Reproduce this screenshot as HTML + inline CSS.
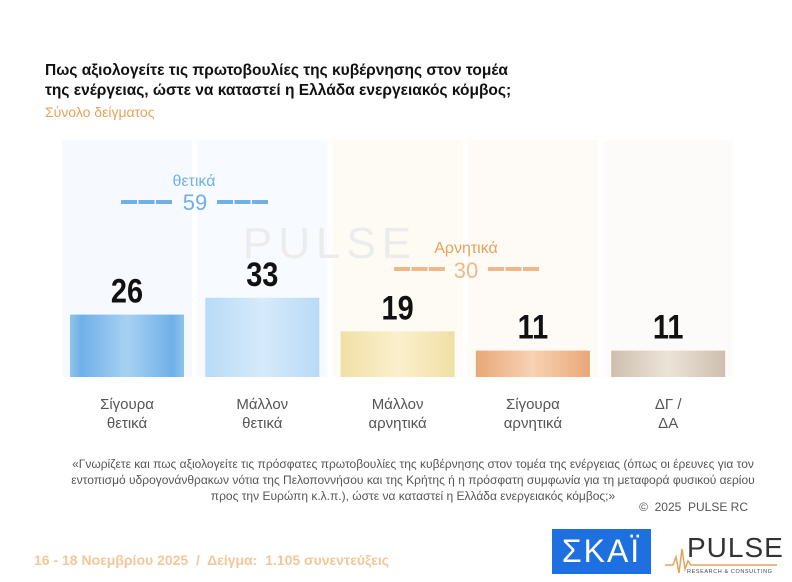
<!DOCTYPE html>
<html><head><meta charset="utf-8"><style>
body{margin:0;width:792px;height:582px;background:#fff;font-family:"Liberation Sans","DejaVu Sans",sans-serif;position:relative;overflow:hidden}
.abs{position:absolute}
</style></head><body>
<div class="abs" style="left:45px;top:61px;font-size:16px;font-weight:bold;line-height:20px;color:#111;transform:scaleX(0.97);transform-origin:left">Πως αξιολογείτε τις πρωτοβουλίες της κυβέρνησης στον τομέα<br>της ενέργειας, ώστε να καταστεί η Ελλάδα ενεργειακός κόμβος;</div>
<div class="abs" style="left:45px;top:104px;font-size:14px;color:#e6a25a">Σύνολο δείγματος</div>
<svg class="abs" style="left:0;top:0" width="792" height="582" id="chart">
<defs>
<linearGradient id="g0" x1="0" x2="1"><stop offset="0" stop-color="#8fc3ee"/><stop offset="0.1" stop-color="#6fb0e8"/><stop offset="0.5" stop-color="#a7d1f3"/><stop offset="0.9" stop-color="#6fb0e8"/><stop offset="1" stop-color="#8fc3ee"/></linearGradient>
<linearGradient id="g1" x1="0" x2="1"><stop offset="0" stop-color="#b8dbf7"/><stop offset="0.5" stop-color="#d6eafb"/><stop offset="1" stop-color="#b8dbf7"/></linearGradient>
<linearGradient id="g2" x1="0" x2="1"><stop offset="0" stop-color="#f0dfa6"/><stop offset="0.5" stop-color="#fbf0cc"/><stop offset="1" stop-color="#f0dfa6"/></linearGradient>
<linearGradient id="g3" x1="0" x2="1"><stop offset="0" stop-color="#e8a778"/><stop offset="0.5" stop-color="#f8d2b4"/><stop offset="1" stop-color="#e8a778"/></linearGradient>
<linearGradient id="g4" x1="0" x2="1"><stop offset="0" stop-color="#cdbfae"/><stop offset="0.5" stop-color="#ece3d8"/><stop offset="1" stop-color="#cdbfae"/></linearGradient>
</defs>
<g id="bg"></g>
<text x="330" y="258" font-size="44" fill="#ececec" text-anchor="middle" letter-spacing="6">PULSE</text>
<g id="bars"></g>
<g>
<text x="194" y="186" font-size="16" fill="#6fb0e8" text-anchor="middle">θετικά</text>
<line x1="121" y1="202" x2="172" y2="202" stroke="#6fb0e8" stroke-width="4" stroke-dasharray="16 1.5"/>
<text x="195" y="210" font-size="22" fill="#6fb0e8" text-anchor="middle">59</text>
<line x1="217" y1="202" x2="268" y2="202" stroke="#6fb0e8" stroke-width="4" stroke-dasharray="16 1.5"/>
</g>
<g>
<text x="466" y="253" font-size="16" fill="#e6a25a" text-anchor="middle">Αρνητικά</text>
<line x1="394" y1="269" x2="446" y2="269" stroke="#f0b888" stroke-width="4" stroke-dasharray="16 1.5"/>
<text x="466" y="278" font-size="22" fill="#f0b888" text-anchor="middle">30</text>
<line x1="488" y1="269" x2="540" y2="269" stroke="#f0b888" stroke-width="4" stroke-dasharray="16 1.5"/>
</g>
</svg>
<div class="abs" style="left:70px;top:456px;width:686px;text-align:center;font-size:12px;line-height:16px;color:#555">«Γνωρίζετε και πως αξιολογείτε τις πρόσφατες πρωτοβουλίες της κυβέρνησης στον τομέα της ενέργειας (όπως οι έρευνες για τον εντοπισμό υδρογονάνθρακων νότια της Πελοποννήσου και της Κρήτης ή η πρόσφατη συμφωνία για τη μεταφορά φυσικού αερίου προς την Ευρώπη κ.λ.π.), ώστε να καταστεί η Ελλάδα ενεργειακός κόμβος;»</div>
<div class="abs" style="left:600px;top:500px;width:148px;text-align:right;font-size:12px;color:#555">©&nbsp; 2025&nbsp; PULSE RC</div>
<div class="abs" style="left:34px;top:552px;font-size:14px;font-weight:bold;color:#f2c79a">16 - 18 Νοεμβρίου 2025&nbsp; /&nbsp; Δείγμα:&nbsp; 1.105 συνεντεύξεις</div>
<div class="abs" style="left:552px;top:529px;width:99px;height:45px;background:#1e6fe0;color:#fff;font-size:32px;line-height:45px;text-align:center;letter-spacing:2px">ΣΚΑΪ</div>
<div class="abs" style="left:665px;top:527px;width:120px;height:50px">
<svg width="120" height="50"><polyline points="0,38 8,38 11,30 14,46 17,22 20,42 23,34 26,38 112,38" fill="none" stroke="#e6a25a" stroke-width="1.5"/>
<text x="22" y="30" font-size="28" fill="#333" letter-spacing="1">PULSE</text>
<text x="22" y="46" font-size="5.5" fill="#444" letter-spacing="0.6">RESEARCH &amp; CONSULTING</text></svg></div>
<script>
const categories=["Σίγουρα|θετικά","Μάλλον|θετικά","Μάλλον|αρνητικά","Σίγουρα|αρνητικά","ΔΓ /|ΔΑ"];
const values=[26,33,19,11,11];
const bgColors=["#f6fafe","#f7fafe","#fefbf5","#fefaf6","#fcfbfa"];
const NS="http://www.w3.org/2000/svg";
const base=377, scale=2.4, x0=70, pitch=135.3, bw=114;
function xPos(i){return x0+i*pitch;}
function yPos(v){return base-v*scale;}
const bars=document.getElementById('bars'), bg=document.getElementById('bg');
categories.forEach((c,i)=>{
  const b=document.createElementNS(NS,'rect');
  b.setAttribute('x',xPos(i)-8);b.setAttribute('y',140);b.setAttribute('width',bw+16);b.setAttribute('height',base-140);b.setAttribute('fill',bgColors[i]);
  
  
  bg.appendChild(b);
  const r=document.createElementNS(NS,'rect');
  r.setAttribute('x',xPos(i));r.setAttribute('y',yPos(values[i]));r.setAttribute('width',bw);r.setAttribute('height',base-yPos(values[i]));r.setAttribute('fill','url(#g'+i+')');
  
  
  bars.appendChild(r);
  const t=document.createElementNS(NS,'text');
  const cx=xPos(i)+bw/2;
  t.setAttribute('x',cx);t.setAttribute('y',yPos(values[i])-12);t.setAttribute('text-anchor','middle');t.setAttribute('font-size','34');t.setAttribute('font-weight','bold');t.setAttribute('fill','#111');
  t.setAttribute('transform','translate('+cx+',0) scale(0.85,1) translate('+(-cx)+',0)');
  t.textContent=values[i];
  
  
  bars.appendChild(t);
  c.split('|').forEach((ln,k)=>{
    const l=document.createElementNS(NS,'text');
    l.setAttribute('x',cx);l.setAttribute('y',409+k*19);l.setAttribute('text-anchor','middle');l.setAttribute('font-size','15');l.setAttribute('fill','#555');
    l.textContent=ln;
    
    
    bars.appendChild(l);
  });
});
</script>
</body></html>
